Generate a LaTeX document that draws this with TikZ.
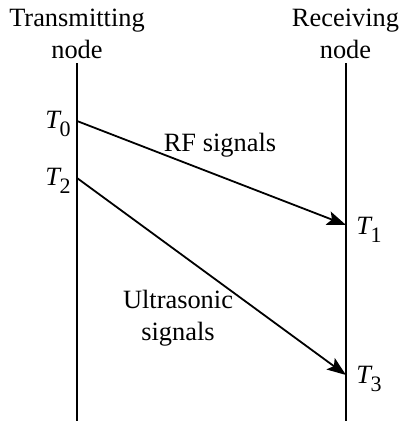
\documentclass[tikz,border=0pt]{standalone}
\usepackage{fontspec}
\setmainfont{Liberation Serif}
\usepackage{tikz}
\usetikzlibrary{arrows.meta, positioning}

\newcommand{\tstamp}[1]{\textit{T}\kern-1pt\raisebox{-0.3em}{\fontsize{11}{11}\selectfont #1}}

\begin{document}
\begin{tikzpicture}[x=0.5pt, y=-0.5pt,
    every node/.style={font=\fontsize{13.2}{16}\selectfont, inner sep=0pt},
    timeline/.style={line width=1pt},
    signal/.style={line width=0.9pt, -{Stealth[length=9.5pt, width=7pt, inset=2pt]}}]
    \useasboundingbox (0,0) rectangle (401,423);

    % Node headers
    \node[align=center] (tx) at (77, 34) {Transmitting\\node};
    \node[align=center] (rx) at (345.5, 34) {Receiving\\node};

    % Time lines
    \coordinate (txtop) at (77, 63);
    \coordinate (txbot) at (77, 421);
    \coordinate (rxtop) at (346, 63);
    \coordinate (rxbot) at (346, 421);
    \draw[timeline] (txtop) -- (txbot);
    \draw[timeline] (rxtop) -- (rxbot);

    % Time stamps
    \coordinate (t0) at (77, 121);
    \coordinate (t1) at (346, 225);
    \coordinate (t2) at (77, 178);
    \coordinate (t3) at (346, 375);
    \node[anchor=east] (t0lab) at (71, 124) {\tstamp{0}};
    \node[anchor=east] (t2lab) at (71, 181) {\tstamp{2}};
    \node[anchor=west] (t1lab) at (356, 230) {\tstamp{1}};
    \node[anchor=west] (t3lab) at (356, 379) {\tstamp{3}};

    % Signals
    \draw[signal] (t0) -- (t1);
    \draw[signal] (t2) -- (t3);
    \node (rf) at (220, 145) {RF signals};
    \node[align=center] (us) at (178, 318) {Ultrasonic\\signals};
\end{tikzpicture}
\end{document}
